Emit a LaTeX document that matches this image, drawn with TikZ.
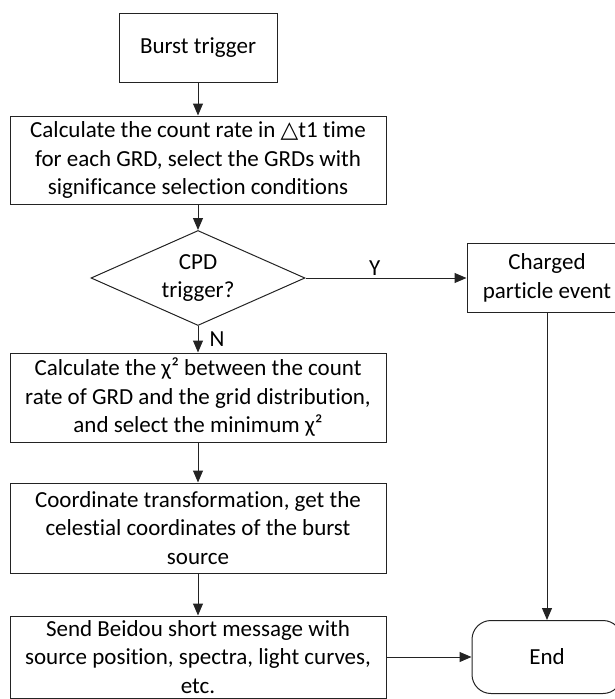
\documentclass[tikz,border=0pt]{standalone}
\usepackage{fontspec}
\setmainfont[Ligatures=NoCommon]{Carlito}
\newfontfamily\symfnt{DejaVu Sans}
\usepackage{tikz}
\usetikzlibrary{positioning,arrows.meta,shapes.geometric}
\definecolor{lnclr}{RGB}{35,35,35}
\newcommand{\dtri}{{\symfnt\char"25B3}}

\begin{document}
\begin{tikzpicture}[x=1pt,y=-1pt,font=\fontsize{23}{28.5}\selectfont,>={Triangle[length=12pt,width=10pt]},
  blk/.style={draw=lnclr,line width=1pt,minimum width=376pt,inner sep=2pt,align=center},
  dec/.style={draw=lnclr,line width=1pt,diamond,aspect=2.25,inner sep=0pt,
    minimum width=214pt,minimum height=95pt,align=center},
  flow/.style={draw=lnclr,line width=1pt,->},
  lbl/.style={inner sep=2pt}]
  \useasboundingbox (0,0) rectangle (614,699);
  % ---- main column ----
  \node[blk,minimum width=158pt,minimum height=69pt] (trig) at (198,47.5) {Burst trigger};
  \node[blk,minimum height=88pt] (calc) at (198,160)
     {Calculate the count rate in \dtri t1 time\\for each GRD, select the GRDs with\\significance selection conditions};
  \node[dec] (cpd) at (198,278) {CPD\\trigger?};
  \node[blk,minimum height=89pt] (chi) at (198,397.5)
     {Calculate the χ² between the count\\rate of GRD and the grid distribution,\\and select the minimum χ²};
  \node[blk,minimum height=90pt] (coord) at (198,528)
     {Coordinate transformation, get the\\celestial coordinates of the burst\\source};
  \node[blk,minimum height=82pt] (send) at (198,657)
     {Send Beidou short message with\\source position, spectra, light curves,\\etc.};
  % ---- right column ----
  \node[blk,minimum width=160pt,minimum height=69pt] (chg) at (547,278) {Charged\\particle event};
  \node[blk,rounded corners=19pt,minimum width=150pt,minimum height=73pt] (fin) at (547,657) {End};
  % ---- connectors ----
  \draw[flow] (trig) -- (calc);
  \draw[flow] (calc) -- (cpd);
  \draw[flow] (cpd) -- node[lbl,above,pos=0.43]{Y} (chg);
  \draw[flow] (cpd) -- node[lbl,right=9pt]{N} (chi);
  \draw[flow] (chi) -- (coord);
  \draw[flow] (coord) -- (send);
  \draw[flow] (send) -- (fin);
  \draw[flow] (chg) -- (fin);
\end{tikzpicture}
\end{document}
